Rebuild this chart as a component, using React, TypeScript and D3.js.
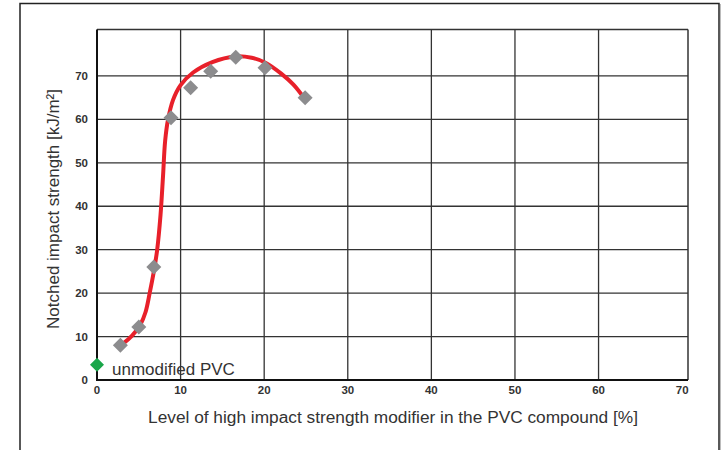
import React from "react";
import * as d3 from "d3";

const xTicks = [0, 10, 20, 30, 40, 50, 60, 70];
const yTicks = [0, 10, 20, 30, 40, 50, 60, 70];

// measured points (modifier %, notched impact strength)
const pointX = [2.8, 5.0, 6.8, 8.85, 11.2, 13.6, 16.6, 20.1, 24.9];
const pointY = [8.0, 12.2, 26.0, 60.4, 67.3, 71.1, 74.3, 71.9, 65.0];

// fitted red curve
const curveX = [3.0, 4.2, 5.2, 5.8, 6.3, 6.8, 7.2, 7.6, 7.9, 8.15, 8.5, 9.1, 10.0, 11.5, 13.8, 16.5, 18.5, 20.2, 22.0, 23.5, 24.9];
const curveY = [8.2, 10.2, 12.8, 15.6, 20.0, 25.0, 30.0, 38.0, 47.0, 55.0, 60.0, 64.5, 67.9, 70.8, 73.2, 74.5, 74.2, 73.0, 70.6, 68.0, 64.6];

const refX = [0];
const refY = [3.5];
const refLabel = "unmodified PVC";

const xLabel = "Level of high impact strength modifier in the PVC compound [%]";
const yLabel = "Notched impact strength [kJ/m²]";

export default function App() {
  const W = 727, H = 450;
  const x = d3.scaleLinear().domain([0, 70.7]).range([97, 688]);
  const y = d3.scaleLinear().domain([0, 80.7]).range([380, 29.5]);
  const line = d3.line<number>().x((_, i) => x(curveX[i])).y((d) => y(d)).curve(d3.curveCatmullRom.alpha(0.5));
  const diamond = (cx: number, cy: number, r: number) =>
    `M${cx},${cy - r}L${cx + r},${cy}L${cx},${cy + r}L${cx - r},${cy}Z`;
  const font = "'Liberation Sans', Arial, sans-serif";
  return (
    <svg width={W} height={H} style={{ position: "absolute", left: 0, top: 0 }}>
      <rect x={0} y={0} width={W} height={H} fill="#fff" />
      <rect x={20} y={3.5} width={699} height={500} fill="none" stroke="#222" strokeWidth={1.5} />
      <line x1={720.5} y1={4} x2={720.5} y2={H} stroke="#bbb" strokeWidth={1} />
      {xTicks.slice(1, -1).map((t) => (
        <line key={"gx" + t} x1={x(t)} x2={x(t)} y1={y(80.7)} y2={y(0)} stroke="#333" strokeWidth={1.3} />
      ))}
      {yTicks.slice(1).map((t) => (
        <line key={"gy" + t} x1={x(0)} x2={x(70.7)} y1={y(t)} y2={y(t)} stroke="#333" strokeWidth={1.3} />
      ))}
      <line x1={x(0)} x2={x(70.7)} y1={y(80.7)} y2={y(80.7)} stroke="#333" strokeWidth={1.5} />
      <line x1={x(70.7)} x2={x(70.7)} y1={y(80.7)} y2={y(0)} stroke="#333" strokeWidth={1.5} />
      <line x1={x(0)} x2={x(0)} y1={y(80.7)} y2={y(0) + 1} stroke="#111" strokeWidth={2} />
      <line x1={x(0) - 1} x2={x(70.7)} y1={y(0)} y2={y(0)} stroke="#111" strokeWidth={2} />
      {yTicks.map((t) => (
        <text key={"ty" + t} x={88} y={y(t) + 4} textAnchor="end" fontFamily={font} fontWeight="bold" fontSize={11.5} fill="#333">
          {t}
        </text>
      ))}
      {xTicks.map((t) => (
        <text key={"tx" + t} x={x(t)} y={394} textAnchor="middle" fontFamily={font} fontWeight="bold" fontSize={11.5} fill="#333">
          {t}
        </text>
      ))}
      <path d={line(curveY) || ""} fill="none" stroke="#e8202a" strokeWidth={4} strokeLinecap="round" />
      {pointX.map((px, i) => (
        <path key={"p" + i} d={diamond(x(px), y(pointY[i]), 7.5)} fill="#8c8c8e" />
      ))}
      {refX.map((px, i) => (
        <path key={"r" + i} d={diamond(x(px), y(refY[i]), 7)} fill="#1aa64a" />
      ))}
      <text x={112} y={375} fontFamily={font} fontSize={17} fill="#333">{refLabel}</text>
      <text x={393} y={423} textAnchor="middle" fontFamily={font} fontSize={17.3} fill="#333">{xLabel}</text>
      <text transform={`translate(59,209) rotate(-90)`} textAnchor="middle" fontFamily={font} fontSize={17} fill="#333">{yLabel}</text>
    </svg>
  );
}
